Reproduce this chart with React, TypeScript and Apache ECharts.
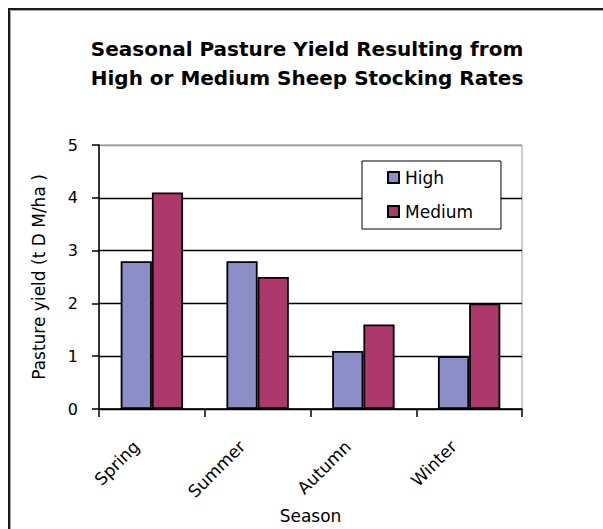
import React, { useEffect, useRef } from "react";
import * as echarts from "echarts";

const titleLines = ["Seasonal Pasture Yield Resulting from", "High or Medium Sheep Stocking Rates"];
const categories = ["Spring", "Summer", "Autumn", "Winter"];
const seriesNames = ["High", "Medium"];
const highValues = [2.8, 2.8, 1.1, 1.0];
const mediumValues = [4.1, 2.5, 1.6, 2.0];
const yMin = 0;
const yMax = 5;
const yInterval = 1;
const xAxisName = "Season";
const yAxisName = "Pasture yield (t D M/ha )";

const FONT = "DejaVu Sans";

export default function App() {
  const ref = useRef<HTMLDivElement>(null);
  useEffect(() => {
    if (!ref.current) return;
    const chart = echarts.init(ref.current, null, { renderer: "svg" });
    chart.setOption({
      animation: false,
      backgroundColor: "#fff",
      textStyle: { fontFamily: FONT },
      title: {
        text: titleLines.join("\n"),
        left: 307,
        top: 34,
        textAlign: "center",
        padding: 0,
        textStyle: {
          fontFamily: FONT,
          fontWeight: "bold",
          fontSize: 20,
          lineHeight: 29,
          color: "#000",
        },
      },
      graphic: [
        {
          type: "rect",
          silent: true,
          shape: { x: 9, y: 9, width: 640, height: 580 },
          style: { fill: "none", stroke: "#1a1a1a", lineWidth: 2 },
        },
        {
          type: "rect",
          silent: true,
          shape: { x: 10.5, y: 10.5, width: 640, height: 580 },
          style: { fill: "none", stroke: "#aaa", lineWidth: 1 },
        },
      ],
      legend: {
        orient: "vertical",
        left: 362,
        top: 161,
        padding: [8, 28, 9, 25],
        itemWidth: 11,
        itemHeight: 11,
        itemGap: 17,
        backgroundColor: "#fff",
        borderColor: "#000",
        borderWidth: 1,
        icon: "rect",
        textStyle: { fontFamily: FONT, fontSize: 17, lineHeight: 17, color: "#000", padding: [0, 0, 0, 1] },
        data: seriesNames,
      },
      grid: {
        left: 99,
        right: 81,
        top: 145,
        bottom: 120,
        show: true,
        borderColor: "#999",
        borderWidth: 1,
        backgroundColor: "transparent",
      },
      xAxis: {
        type: "category",
        data: categories,
        name: xAxisName,
        nameLocation: "middle",
        nameGap: 98,
        nameTextStyle: { fontFamily: FONT, fontSize: 17, color: "#000" },
        axisLine: { lineStyle: { color: "#000", width: 1.5 } },
        axisTick: { show: true, length: 8, lineStyle: { color: "#000", width: 1.5 } },
        axisLabel: {
          rotate: 45,
          margin: 19,
          fontFamily: FONT,
          fontSize: 17,
          color: "#000",
          padding: [0, 22, 0, 0],
        },
      },
      yAxis: {
        type: "value",
        min: yMin,
        max: yMax,
        interval: yInterval,
        name: yAxisName,
        nameLocation: "middle",
        nameGap: 52,
        nameTextStyle: { fontFamily: FONT, fontSize: 17, color: "#000" },
        axisLine: { show: true, lineStyle: { color: "#000", width: 1.5 } },
        axisTick: { show: true, length: 7, lineStyle: { color: "#000", width: 1.5 } },
        axisLabel: { margin: 21, fontFamily: FONT, fontSize: 16, color: "#000" },
        splitLine: {
          show: true,
          lineStyle: { color: ["#000", "#000", "#000", "#000", "#000", "#999"], width: 1.3 },
        },
      },
      series: [
        {
          name: seriesNames[0],
          type: "bar",
          data: highValues,
          barGap: "0%",
          barCategoryGap: "41%",
          itemStyle: { color: "#8c8fc7", borderColor: "#000", borderWidth: 1.8 },
        },
        {
          name: seriesNames[1],
          type: "bar",
          data: mediumValues,
          barGap: "0%",
          barCategoryGap: "41%",
          itemStyle: { color: "#ad386b", borderColor: "#000", borderWidth: 1.8 },
        },
      ],
    });
    return () => chart.dispose();
  }, []);
  return (
    <div
      ref={ref}
      style={{ position: "absolute", left: 0, top: 0, width: 603, height: 529 }}
    />
  );
}
